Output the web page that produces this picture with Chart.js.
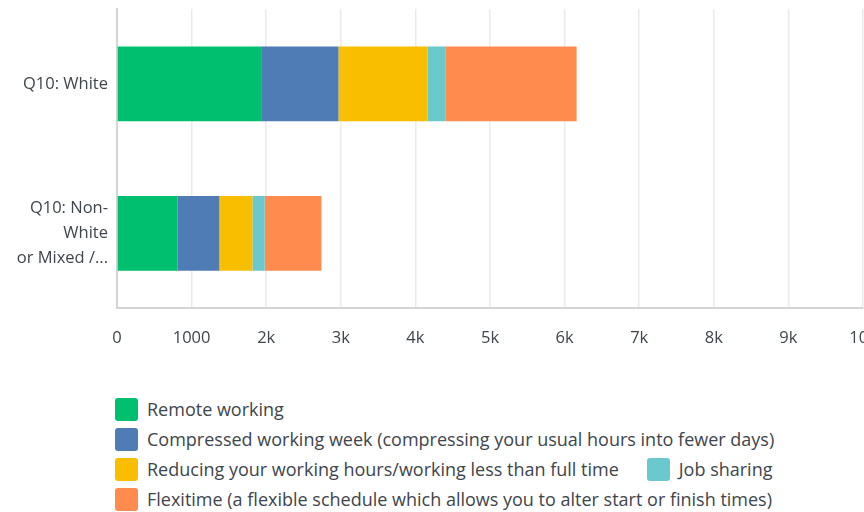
<!DOCTYPE html>
<html>
<head>
<meta charset="utf-8">
<script src="https://cdn.jsdelivr.net/npm/chart.js@4.4.1/dist/chart.umd.min.js"></script>
<style>
    html, body {
        margin: 0;
        padding: 0;
        background: #ffffff;
        overflow: hidden;
    }
    .wrap {
        position: relative;
        width: 864px;
        height: 512px;
        overflow: hidden;
    }
    .chart-box {
        position: absolute;
        left: 0;
        top: 0;
        width: 864px;
        height: 368px;
    }
    .legend {
        position: absolute;
        left: 115px;
        top: 394px;
        width: 720px;
        font-family: 'Open Sans', sans-serif;
        font-size: 18px;
        color: #3e454c;
        display: flex;
        flex-wrap: wrap;
    }
    .legend-item {
        display: flex;
        align-items: center;
        height: 30px;
        margin-right: 28px;
        white-space: nowrap;
    }
    .legend-swatch {
        width: 23px;
        height: 23px;
        border-radius: 3px;
        margin-right: 9px;
    }
</style>
</head>
<body>
<div class="wrap">
    <div class="chart-box"><canvas id="barChart"></canvas></div>
    <div class="legend" id="legend"></div>
</div>
<script>
// Categories and tick labels
const categories = ['Q10: White', ['Q10: Non-', 'White', 'or Mixed /...']];
const xTickLabels = ['0', '1000', '2k', '3k', '4k', '5k', '6k', '7k', '8k', '9k', '10k'];

// Series values
const remoteWorking = [1932, 809];
const compressedWeek = [1037, 563];
const reducingHours = [1194, 443];
const jobSharing = [237, 165];
const flexitime = [1761, 760];

const seriesNames = [
    'Remote working',
    'Compressed working week (compressing your usual hours into fewer days)',
    'Reducing your working hours/working less than full time',
    'Job sharing',
    'Flexitime (a flexible schedule which allows you to alter start or finish times)'
];
const seriesColors = ['#00bf6f', '#507cb6', '#f9be00', '#6bc8cd', '#ff8b4f'];
const seriesData = [remoteWorking, compressedWeek, reducingHours, jobSharing, flexitime];

const textColor = '#3e454c';

document.addEventListener('DOMContentLoaded', function() {
    const ctx = document.getElementById('barChart').getContext('2d');
    const chart = new Chart(ctx, {
        type: 'bar',
        data: {
            labels: categories,
            datasets: seriesNames.map((name, i) => ({
                label: name,
                data: seriesData[i],
                backgroundColor: seriesColors[i],
                borderWidth: 0,
                barPercentage: 0.5,
                categoryPercentage: 1.0
            }))
        },
        options: {
            indexAxis: 'y',
            responsive: true,
            maintainAspectRatio: false,
            animation: false,
            layout: {
                padding: { top: 9, left: 0, right: 1, bottom: 0 }
            },
            plugins: {
                legend: { display: false },
                tooltip: { enabled: false }
            },
            scales: {
                x: {
                    stacked: true,
                    min: 0,
                    max: 10000,
                    afterFit: (scale) => {
                        // let the last label run off the edge like the original
                        scale.paddingLeft = 0;
                        scale.paddingRight = 0;
                    },
                    ticks: {
                        stepSize: 1000,
                        padding: 20,
                        color: textColor,
                        font: { family: 'Open Sans', size: 16.5 },
                        callback: (value, index) => xTickLabels[index]
                    },
                    grid: {
                        color: '#ebebeb',
                        lineWidth: 1.5,
                        drawTicks: false
                    },
                    border: {
                        color: '#d4d4d4',
                        width: 2
                    }
                },
                y: {
                    stacked: true,
                    afterFit: (scale) => {
                        scale.width = 117;
                        scale.paddingTop = 0;
                        scale.paddingBottom = 0;
                    },
                    ticks: {
                        padding: 9,
                        color: textColor,
                        font: { family: 'Open Sans', size: 16.5, lineHeight: 1.5 }
                    },
                    grid: {
                        display: false,
                        drawTicks: false
                    },
                    border: {
                        color: '#d4d4d4',
                        width: 2
                    }
                }
            }
        }
    });

    // HTML legend built from the chart's datasets
    const legend = document.getElementById('legend');
    chart.data.datasets.forEach(ds => {
        const item = document.createElement('div');
        item.className = 'legend-item';
        item.innerHTML = `<span class="legend-swatch" style="background:${ds.backgroundColor}"></span><span>${ds.label}</span>`;
        legend.appendChild(item);
    });
});
</script>
</body>
</html>
